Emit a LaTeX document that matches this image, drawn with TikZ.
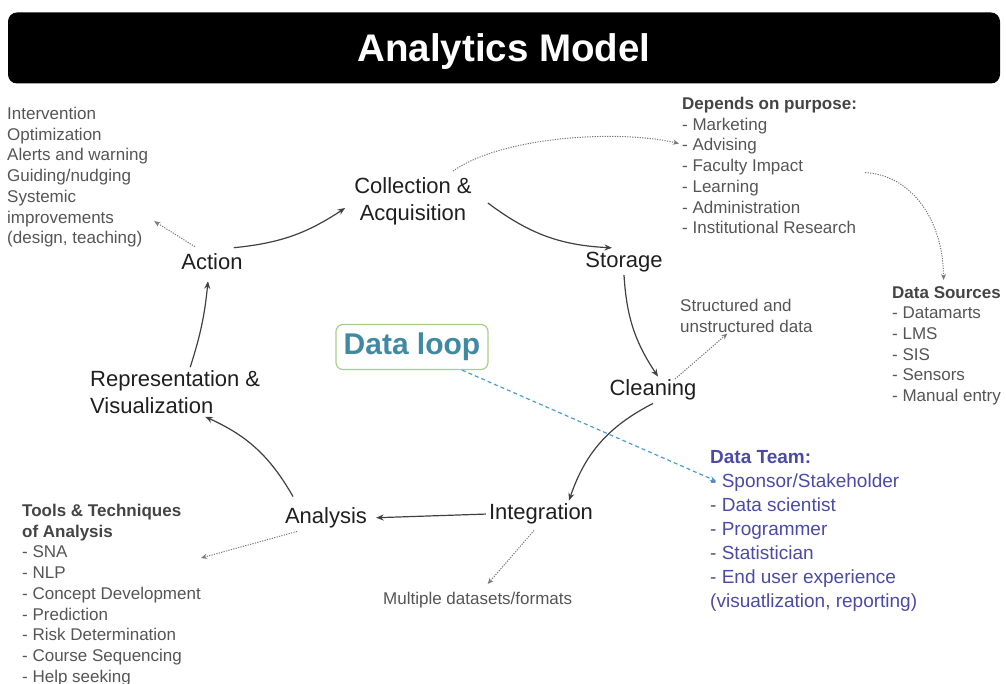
\documentclass[tikz,border=0pt]{standalone}
\usepackage{fontspec}
\setmainfont{Liberation Sans}
\usetikzlibrary{arrows.meta,calc}
\definecolor{cyc}{HTML}{404040}
\definecolor{graytxt}{HTML}{555555}
\definecolor{boldtxt}{HTML}{444444}
\definecolor{teamc}{HTML}{4B4BA6}
\definecolor{loopt}{HTML}{3F89A3}
\definecolor{loopb}{HTML}{A8CF88}
\definecolor{dashc}{HTML}{4C9DD0}
\definecolor{dotc}{HTML}{777777}
\begin{document}
\begin{tikzpicture}[x=1pt,y=-1pt,
  stage/.style={font=\fontsize{22}{27}\selectfont, text=black!88, inner sep=1pt, align=center},
  glist/.style={font=\fontsize{17}{20.7}\selectfont, text=graytxt, inner sep=0pt, align=left, anchor=north west},
  flow/.style={draw=cyc, line width=1.2pt, -{Stealth[length=7.5pt,width=6pt]}},
  dots/.style={draw=dotc, line width=1pt, dash pattern=on 1.2pt off 1.3pt, -{Stealth[length=6pt,width=5pt]}},
]
\useasboundingbox (0,0) rectangle (1006,684);

% title bar
\node[fill=black, rounded corners=9pt, minimum width=992pt, minimum height=71pt,
      text height=27.5pt, text depth=0pt,
      text=white, font=\fontsize{38.5}{40}\selectfont\bfseries] (title) at (504,48) {Analytics Model};

% cycle stages
\node[stage] (coll) at (413,201) {Collection \&\\Acquisition};
\node[stage] (stor) at (624,262) {Storage};
\node[stage] (clean) at (653,390) {Cleaning};
\node[stage] (integ) at (541,514) {Integration};
\node[stage] (anal) at (326,518) {Analysis};
\node[stage, align=left, anchor=west] (repr) at (89,392) {Representation \&\\Visualization};
\node[stage] (act) at (212,262) {Action};

% data loop
\node[draw=loopb, line width=1.2pt, rounded corners=7pt, text=loopt,
      font=\fontsize{30}{32}\selectfont\bfseries, minimum width=152pt, minimum height=45pt] (loop) at (412,347) {Data loop};

% side lists
\node[glist] (actlist) at (7,107) {Intervention\\Optimization\\Alerts and warning\\Guiding/nudging\\Systemic\\improvements\\(design, teaching)};
\node[glist] (dep) at (682,97) {\textcolor{boldtxt}{\bfseries Depends on purpose:}\\- Marketing\\- Advising\\- Faculty Impact\\- Learning\\- Administration\\- Institutional Research};
\node[glist] (src) at (892,286) {\textcolor{boldtxt}{\bfseries Data Sources}\\- Datamarts\\- LMS\\- SIS\\- Sensors\\- Manual entry};
\node[glist] (struct) at (680,299) {Structured and\\unstructured data};
\node[glist] (multi) at (383,592) {Multiple datasets/formats};
\node[glist] (tools) at (22,504) {\textcolor{boldtxt}{\bfseries Tools \& Techniques}\\\textcolor{boldtxt}{\bfseries of Analysis}\\- SNA\\- NLP\\- Concept Development\\- Prediction\\- Risk Determination\\- Course Sequencing\\- Help seeking};
\node[glist, text=teamc, font=\fontsize{19}{24}\selectfont] (team) at (710,450) {\textbf{Data Team:}\\- Sponsor/Stakeholder\\- Data scientist\\- Programmer\\- Statistician\\- End user experience\\(visuatlization, reporting)};

% cycle arrows
\draw[flow] ($(coll.east)+(15,2)$) to[bend right=17] ($(stor.north)+(-12,-3)$);
\draw[flow] ($(stor.south)+(0,2)$) to[bend right=15] ($(clean.north)+(5,-2)$);
\draw[flow] ($(clean.south)+(0,2)$) to[bend right=22] ($(integ.north)+(28,-2)$);
\draw[flow, shorten <=2pt, shorten >=8pt] (integ.west) -- (anal.east);
\draw[flow] ($(anal.north)+(-33,-10)$) to[bend right=18] ($(repr.south)+(30,2)$);
\draw[flow] ($(repr.north)+(15,-2)$) to[bend right=6] ($(act.south)+(-4,10)$);
\draw[flow] ($(act.north east)+(-10,-5)$) to[bend right=14] ($(coll.west)+(-8,7)$);

% dotted side arrows
\draw[dots] ($(act.north)+(-17,-6)$) -- ($(actlist.east)+(6,44)$);
\draw[dots] ($(coll.north)+(40,-5)$) .. controls +(50,-35) and +(-60,-14) .. ($(dep.west)+(-3,-22)$);
\draw[dots] ($(dep.east)+(8,7)$) .. controls +(50,3) and +(0,-55) .. ($(src.north)+(-3,-6)$);
\draw[dots] ($(clean.center)+(22,-11)$) -- ($(struct.south)+(-19,1)$);
\draw[dots] ($(integ.south)+(-7,5)$) -- ($(multi.north)+(10,-8)$);
\draw[dots] ($(anal.south)+(-29,2)$) -- ($(tools.north east)+(0,54)$);

% dashed link
\draw[draw=dashc, line width=1.2pt, dash pattern=on 4pt off 3pt, -{Stealth[length=6pt,width=5pt]}]
  ($(loop.south)+(50,0)$) -- ($(team.north west)+(6,31)$);
\end{tikzpicture}
\end{document}
